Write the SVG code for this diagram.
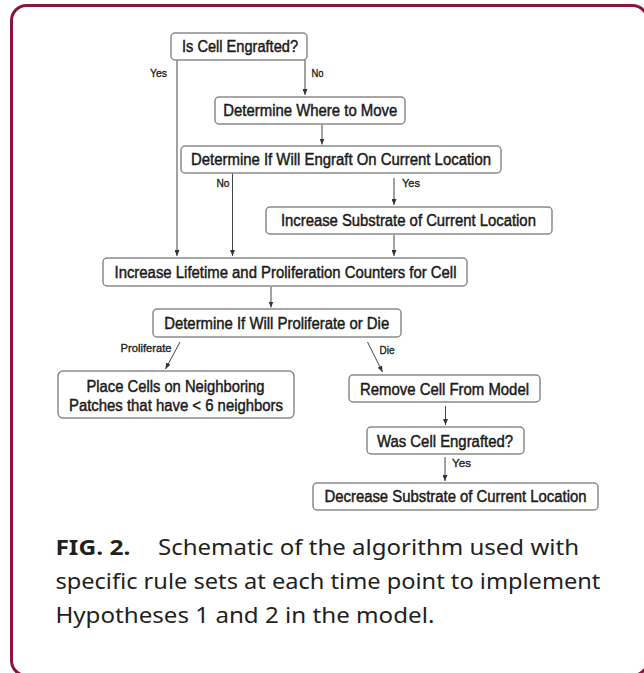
<svg xmlns="http://www.w3.org/2000/svg" width="644" height="673" viewBox="0 0 644 673">
<style>
.frame{fill:none;stroke:#8b1538;stroke-width:3}
.box{fill:#fff;stroke:#8a8a8a;stroke-width:1.5}
.bt{font-family:"Liberation Sans",Arial,sans-serif;font-size:16px;fill:#1a1a1a;text-anchor:middle;stroke:#1a1a1a;stroke-width:0.45}
.lb{font-family:"Liberation Sans",Arial,sans-serif;font-size:11.5px;fill:#222;text-anchor:middle;stroke:#222;stroke-width:0.35}
.cn{stroke:#444;stroke-width:1;fill:none}
.cap{font-family:"Noto Sans","Open Sans",sans-serif;font-size:21px;fill:#231f20}
.capb{font-weight:bold}
</style>
<defs>
<marker id="ah" markerUnits="userSpaceOnUse" markerWidth="6" markerHeight="5" refX="6" refY="2.5" orient="auto">
<path d="M0,0 L6,2.5 L0,5 z" fill="#333"/>
</marker>
</defs>
<rect width="644" height="673" fill="#fff"/>
<rect class="frame" x="11.5" y="5.5" width="636" height="670" rx="15"/>

<g id="connectors">
<line class="cn" x1="177" y1="60" x2="177" y2="256" marker-end="url(#ah)"/>
<line class="cn" x1="305" y1="60" x2="305" y2="95" marker-end="url(#ah)"/>
<line class="cn" x1="322" y1="125" x2="322" y2="144.5" marker-end="url(#ah)"/>
<line class="cn" x1="232.5" y1="173" x2="232.5" y2="256" marker-end="url(#ah)"/>
<line class="cn" x1="394" y1="178" x2="394" y2="205" marker-end="url(#ah)"/>
<line class="cn" x1="394" y1="235" x2="394" y2="256" marker-end="url(#ah)"/>
<line class="cn" x1="271" y1="287" x2="271" y2="307.5" marker-end="url(#ah)"/>
<line class="cn" x1="180" y1="342" x2="165.5" y2="369" marker-end="url(#ah)"/>
<line class="cn" x1="367.5" y1="342" x2="382.5" y2="372" marker-end="url(#ah)"/>
<line class="cn" x1="445.5" y1="406" x2="445.5" y2="425" marker-end="url(#ah)"/>
<line class="cn" x1="445" y1="457" x2="445" y2="481" marker-end="url(#ah)"/>
<text class="lb" x="158.5" y="76.8" textLength="17" lengthAdjust="spacingAndGlyphs">Yes</text>
<text class="lb" x="317.5" y="76.8" textLength="12" lengthAdjust="spacingAndGlyphs">No</text>
<text class="lb" x="223" y="186.8" textLength="13" lengthAdjust="spacingAndGlyphs">No</text>
<text class="lb" x="411" y="186.8" textLength="18" lengthAdjust="spacingAndGlyphs">Yes</text>
<text class="lb" x="146" y="352.3" textLength="51" lengthAdjust="spacingAndGlyphs">Proliferate</text>
<text class="lb" x="387" y="354.2" textLength="15" lengthAdjust="spacingAndGlyphs">Die</text>
<text class="lb" x="461.5" y="467.3" textLength="19" lengthAdjust="spacingAndGlyphs">Yes</text>
</g>

<g id="n1">
<rect class="box" x="171" y="33" width="136" height="27" rx="4"/>
<text class="bt" x="240" y="52.4" textLength="116" lengthAdjust="spacingAndGlyphs">Is Cell Engrafted?</text>
</g>
<g id="n2">
<rect class="box" x="215" y="97" width="190" height="27" rx="4"/>
<text class="bt" x="310.3" y="116.2" textLength="174" lengthAdjust="spacingAndGlyphs">Determine Where to Move</text>
</g>
<g id="n3">
<rect class="box" x="181" y="146" width="320" height="27" rx="4"/>
<text class="bt" x="341" y="165.2" textLength="300" lengthAdjust="spacingAndGlyphs">Determine If Will Engraft On Current Location</text>
</g>
<g id="n4">
<rect class="box" x="266" y="207" width="286" height="27" rx="4"/>
<text class="bt" x="408.4" y="226.2" textLength="255" lengthAdjust="spacingAndGlyphs">Increase Substrate of Current Location</text>
</g>
<g id="n5">
<rect class="box" x="103" y="258" width="364" height="28" rx="4"/>
<text class="bt" x="285.5" y="277.7" textLength="342" lengthAdjust="spacingAndGlyphs">Increase Lifetime and Proliferation Counters for Cell</text>
</g>
<g id="n6">
<rect class="box" x="153" y="309" width="248" height="28" rx="4"/>
<text class="bt" x="276.7" y="328.7" textLength="225" lengthAdjust="spacingAndGlyphs">Determine If Will Proliferate or Die</text>
</g>
<g id="n7">
<rect class="box" x="58" y="371" width="236" height="47" rx="5"/>
<text class="bt" x="175.5" y="392.4" textLength="178" lengthAdjust="spacingAndGlyphs">Place Cells on Neighboring</text>
<text class="bt" x="176" y="410.7" textLength="214" lengthAdjust="spacingAndGlyphs">Patches that have &lt; 6 neighbors</text>
</g>
<g id="n8">
<rect class="box" x="349" y="375" width="191" height="27" rx="4"/>
<text class="bt" x="444.5" y="394.7" textLength="169" lengthAdjust="spacingAndGlyphs">Remove Cell From Model</text>
</g>
<g id="n9">
<rect class="box" x="367" y="427" width="157" height="27" rx="4"/>
<text class="bt" x="445" y="446.7" textLength="136" lengthAdjust="spacingAndGlyphs">Was Cell Engrafted?</text>
</g>
<g id="n10">
<rect class="box" x="313" y="483" width="285" height="27" rx="4"/>
<text class="bt" x="455.5" y="502.4" textLength="262" lengthAdjust="spacingAndGlyphs">Decrease Substrate of Current Location</text>
</g>

<g id="caption">
<text class="cap capb" x="55.4" y="555" textLength="75" lengthAdjust="spacingAndGlyphs">FIG. 2.</text>
<text class="cap" x="158" y="555" textLength="421" lengthAdjust="spacingAndGlyphs">Schematic of the algorithm used with</text>
<text class="cap" x="55.4" y="589" textLength="545" lengthAdjust="spacingAndGlyphs">specific rule sets at each time point to implement</text>
<text class="cap" x="55.4" y="623" textLength="379" lengthAdjust="spacingAndGlyphs">Hypotheses 1 and 2 in the model.</text>
</g>
</svg>
